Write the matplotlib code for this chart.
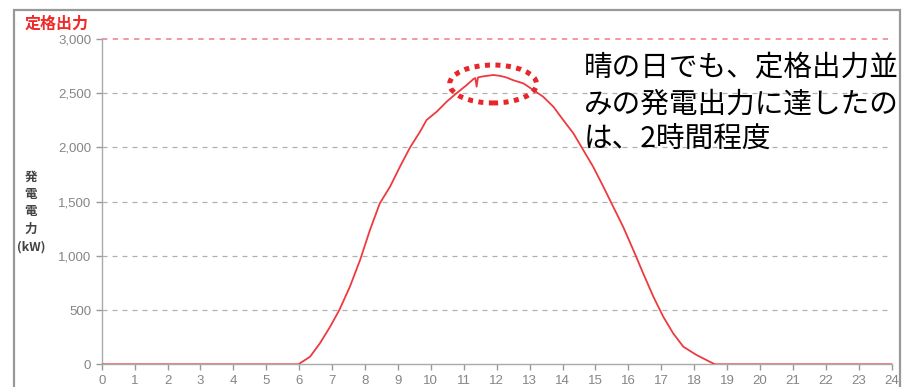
import matplotlib.pyplot as plt
import matplotlib.patches as patches

plt.rcParams['font.family'] = ['Noto Sans CJK JP', 'DejaVu Sans']

# hour of day vs generated power (kW)
hours = [0, 6.0, 6.02, 6.33, 6.63, 6.94, 7.22, 7.54, 7.85, 8.15, 8.45, 8.76,
         9.06, 9.37, 9.67, 9.87, 10.18, 10.48, 10.78, 11.09, 11.29, 11.35,
         11.39, 11.43, 11.54, 11.7, 11.9, 12.1, 12.3, 12.5, 12.81, 13.11,
         13.41, 13.72, 14.02, 14.33, 14.63, 14.93, 15.24, 15.54, 15.84, 16.15,
         16.45, 16.76, 17.06, 17.36, 17.67, 18.07, 18.47, 18.63, 24]
power = [0, 0, 9, 70, 194, 347, 501, 716, 962, 1239, 1485, 1638,
         1822, 2001, 2145, 2253, 2330, 2422, 2500, 2576, 2630, 2640,
         2560, 2645, 2653, 2660, 2668, 2660, 2645, 2620, 2591, 2530,
         2468, 2376, 2253, 2130, 1976, 1822, 1638, 1453, 1269, 1054,
         839, 623, 439, 286, 162, 86, 24, 0, 0]
rated = 3000
yticks = [0, 500, 1000, 1500, 2000, 2500, 3000]
ytick_labels = ['0', '500', '1,000', '1,500', '2,000', '2,500', '3,000']
xticks = list(range(0, 25))

W, H = 903, 387
fig = plt.figure(figsize=(W / 100, H / 100), dpi=100)
ax = fig.add_axes([101.7 / W, 22.7 / H, 790 / W, 325.3 / H])

# outer frame
frame = patches.Rectangle((14 / W, -0.1), 886 / W, 1.1 - 10 / H,
                          transform=fig.transFigure, fill=False,
                          edgecolor='#999999', linewidth=1.6)
fig.add_artist(frame)

for y in yticks[1:-1]:
    ax.axhline(y, color='#b0b0b0', linewidth=0.9, linestyle=(0, (4, 4)), zorder=1)
ax.plot([0, 23.9], [rated, rated], color='#f07a85', linewidth=1.1,
        linestyle=(0, (3.5, 3.5)), zorder=1, clip_on=False)

ax.plot(hours, power, color='#ee3a3f', linewidth=1.3, zorder=3)

ell = patches.Ellipse((11.89, 2585), 2.64, 350, fill=False, edgecolor='#e8262a',
                      linewidth=3.6, linestyle=(0, (1, 1.1)), zorder=4)
ax.add_patch(ell)

ax.set_xlim(0, 24)
ax.set_ylim(0, 3000)
ax.set_xticks(xticks)
ax.set_yticks(yticks)
ax.set_yticklabels(ytick_labels)
for s in ['top', 'right']:
    ax.spines[s].set_visible(False)
for s in ['left', 'bottom']:
    ax.spines[s].set_color('#aaaaaa')
    ax.spines[s].set_linewidth(1.0)
ax.tick_params(axis='both', colors='#999999', length=4.5, width=1.0,
               labelcolor='#858585', labelsize=9.5, pad=3)
for lab in ax.get_xticklabels() + ax.get_yticklabels():
    lab.set_family(['Liberation Sans', 'DejaVu Sans'])

fig.text(25 / W, 1 - 23.5 / H, '定格出力', color='#f02828', fontsize=11.5,
         fontweight='bold', ha='left', va='center')
fig.text(31 / W, 1 - 212 / H, '発\n電\n電\n力\n(kW)', color='#444444',
         fontsize=9, fontweight='bold', ha='center', va='center',
         linespacing=1.45, multialignment='center')

lines = ['晴の日でも、定格出力並', 'みの発電出力に達したの', 'は、2時間程度']
ycent = [67, 104.5, 139]
for t, yc in zip(lines, ycent):
    fig.text(584 / W, 1 - yc / H, t, color='black', fontsize=20.6,
             ha='left', va='center')

fig.savefig('out.png', dpi=100)
